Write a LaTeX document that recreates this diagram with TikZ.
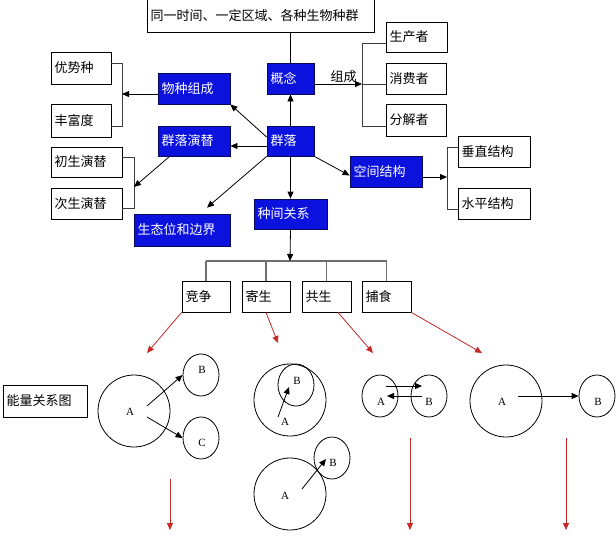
\documentclass[tikz,border=0pt]{standalone}
\usepackage{fontspec}
\setmainfont{Liberation Serif}
\newfontfamily\cjk{Noto Sans CJK SC}
\usetikzlibrary{arrows.meta,shapes.geometric}
\definecolor{bfill}{RGB}{12,18,222}
\definecolor{bline}{RGB}{10,10,90}
\definecolor{rd}{RGB}{200,40,40}
\definecolor{gl}{RGB}{110,110,110}
\definecolor{bk}{RGB}{60,60,60}
\begin{document}
\begin{tikzpicture}[x=1pt,y=-1pt,
  font=\cjk\fontsize{13}{15}\selectfont,
  box/.style={draw=black, line width=0.8pt, inner xsep=3.5pt, inner ysep=0pt, align=left},
  bbox/.style={box, draw=bline, fill=bfill, text=white},
  arr/.style={-{Triangle[length=7pt,width=6pt]}, line width=0.8pt},
  rarr/.style={-{Triangle[length=7pt,width=6pt]}, line width=0.8pt, draw=rd},
  brk/.style={line width=0.8pt, draw=bk},
  gline/.style={line width=1.2pt, draw=gl},
  circ/.style={draw, circle, minimum size=72pt, inner sep=0pt, line width=0.8pt},
  ell/.style={draw, ellipse, minimum width=36pt, minimum height=42pt, inner sep=0pt, line width=0.8pt},
  lt/.style={font=\rmfamily\fontsize{11}{12}\selectfont, inner sep=0pt}]
\fill[white] (0,0) rectangle (616,541);
\useasboundingbox (0,0) rectangle (616,541);

% ---------- boxes ----------
\node[box, text width=220pt, minimum height=32.5pt] (top) at (260.5,15.75) {同一时间、一定区域、各种生物种群};
\node[bbox, text width=40pt, minimum height=31pt] (gn) at (290.5,78.5) {概念};
\node[bbox, text width=65pt, minimum height=31pt] (wz) at (194,88.5) {物种组成};
\node[bbox, text width=40pt, minimum height=30pt] (ql) at (290.5,141) {群落};
\node[bbox, text width=65pt, minimum height=30pt] (qy) at (194,141) {群落演替};
\node[bbox, text width=66pt, minimum height=30pt] (zj) at (290.5,214) {种间关系};
\node[bbox, text width=89pt, minimum height=32pt] (st) at (182,230) {生态位和边界};
\node[bbox, text width=65pt, minimum height=31pt] (kj) at (386,171.5) {空间结构};

\node[box, text width=53pt, minimum height=32pt] (ys) at (81,68) {优势种};
\node[box, text width=53pt, minimum height=33pt] (fd) at (81,120.5) {丰富度};
\node[box, text width=64pt, minimum height=30pt] (cs) at (86.5,162) {初生演替};
\node[box, text width=64pt, minimum height=31pt] (cis) at (86.5,203.5) {次生演替};
\node[box, text width=54pt, minimum height=30pt] (scz) at (416.5,37) {生产者};
\node[box, text width=53pt, minimum height=31pt] (xfz) at (416,78.5) {消费者};
\node[box, text width=53pt, minimum height=32pt] (fjz) at (416,120) {分解者};
\node[box, text width=65pt, minimum height=31pt] (cz) at (494,151.5) {垂直结构};
\node[box, text width=65pt, minimum height=31pt] (sp) at (494,203.5) {水平结构};
\node[box, text width=41pt, minimum height=31pt] (jz) at (206,296.5) {竞争};
\node[box, text width=41pt, minimum height=31pt] (js) at (266,296.5) {寄生};
\node[box, text width=42pt, minimum height=31pt] (gs) at (326.5,296.5) {共生};
\node[box, text width=42pt, minimum height=31pt] (bs) at (386.5,296.5) {捕食};
\node[box, text width=77pt, minimum height=32pt] (nl) at (45,401) {能量关系图};

% ---------- top connectors ----------
\draw[line width=0.8pt] (gn.north |- top.south) -- (gn.north);

\coordinate (zc) at (362,84);
\coordinate (z1) at (362,43);
\coordinate (z3) at (362,126);
\draw[brk] (scz.west |- z1) -- (z1) -- (z3) -- (fjz.west |- z3);
\draw[brk] (zc) -- (xfz.west |- zc);
\draw[arr] (gn.east |- zc) -- (zc);
\node[inner sep=0pt] (zcl) at (343.5,77) {组成};

\coordinate (wb) at (122,94);
\coordinate (w1) at (122,63);
\coordinate (w2) at (122,126);
\draw[brk] (ys.east |- w1) -- (w1) -- (w2) -- (fd.east |- w2);
\draw[arr] (wz.west |- wb) -- (wb);

\coordinate (y1) at (134,157);
\coordinate (y2) at (134,208);
\coordinate (yb) at (134,187);
\draw[brk] (cs.east |- y1) -- (y1) -- (y2) -- (cis.east |- y2);
\draw[arr] ([xshift=12pt]qy.south west) -- (yb);

\coordinate (kb) at (447,177);
\coordinate (k1) at (447,147);
\coordinate (k2) at (447,209);
\draw[brk] (cz.west |- k1) -- (k1) -- (k2) -- (sp.west |- k2);
\draw[arr] (kj.east |- kb) -- (kb);

\draw[arr] (ql.north) -- (gn.south);
\draw[arr] (ql.south) -- (zj.north);
\draw[arr] ([yshift=-5pt]ql.west) -- ([yshift=-5pt]qy.east);
\draw[arr] ([yshift=4pt]ql.west) -- (wz.south east);
\draw[arr] (ql.south west) -- ([xshift=25pt,yshift=6pt]st.north);
\draw[arr] (ql.south east) -- ([yshift=-4pt]kj.west);

% ---------- interspecific ----------
\coordinate (hb) at (290,261);
\draw[gline] (jz.north |- hb) -- (bs.north |- hb);
\foreach \n in {jz,js,gs,bs} \draw[gline] (\n.north) -- (\n.north |- hb);
\draw[arr] (zj.south) -- (hb);

\coordinate (r1) at (147,353);
\coordinate (r2) at (278,343);
\coordinate (r3) at (373,353);
\coordinate (r4) at (482,353);
\draw[rarr] (jz.south west) -- (r1);
\draw[rarr] (js.south) -- (r2);
\draw[rarr] ([xshift=11.5pt]gs.south) -- (r3);
\draw[rarr] (bs.south east) -- (r4);

% ---------- competition ----------
\node[circ] (cA) at (134,411) {};
\node[ell] (cB) at (201,375) {};
\node[ell] (cC) at (201,438) {};
\node[lt] (la1) at (130,412) {A};
\node[lt] (lb1) at (202,370) {B};
\node[lt] (lc1) at (202,443) {C};
\draw[arr] ([shift={(17,-6)}]la1.center) -- (cB.west);
\draw[arr] ([shift={(17,5)}]la1.center) -- (cC.west);

% ---------- parasitism ----------
\node[circ] (pA) at (290,400) {};
\node[ell] (pB) at (296,385) {};
\node[lt] (la2) at (285,422) {A};
\node[lt] (lb2) at (297,381) {B};
\draw[arr] ([shift={(-7,-5)}]la2.center) -- ([shift={(-7,2)}]pB.center);

\node[circ] (qA) at (290,494) {};
\node[ell] (qB) at (332,458) {};
\node[lt] (la3) at (285,496) {A};
\node[lt] (lb3) at (333,463) {B};
\draw[arr] ([shift={(17,-7)}]la3.center) -- ([shift={(-6,1)}]qB.center);

% ---------- mutualism ----------
\node[ell] (mA) at (380,396) {};
\node[ell] (mB) at (429,396) {};
\node[lt] (la4) at (381,402) {A};
\node[lt] (lb4) at (429,402) {B};
\draw[arr] ([shift={(6,-10)}]mA.center) -- ([shift={(-7,-10)}]mB.center);
\draw[arr] ([shift={(-7,0)}]mB.center) -- ([shift={(7,0)}]mA.center);

% ---------- predation ----------
\node[circ] (rA) at (506,401) {};
\node[ell] (rB) at (597,396) {};
\node[lt] (la5) at (502,402) {A};
\node[lt] (lb5) at (598,402) {B};
\draw[arr] ([shift={(16,-6)}]la5.center) -- (rB.west);

% ---------- red verticals ----------
\coordinate (v1s) at (170,479); \coordinate (v1e) at (170,530);
\coordinate (v2s) at (410,438); \coordinate (v2e) at (410,530);
\coordinate (v3s) at (566,438); \coordinate (v3e) at (566,530);
\draw[rarr] (v1s) -- (v1e);
\draw[rarr] (v2s) -- (v2e);
\draw[rarr] (v3s) -- (v3e);
\end{tikzpicture}
\end{document}
